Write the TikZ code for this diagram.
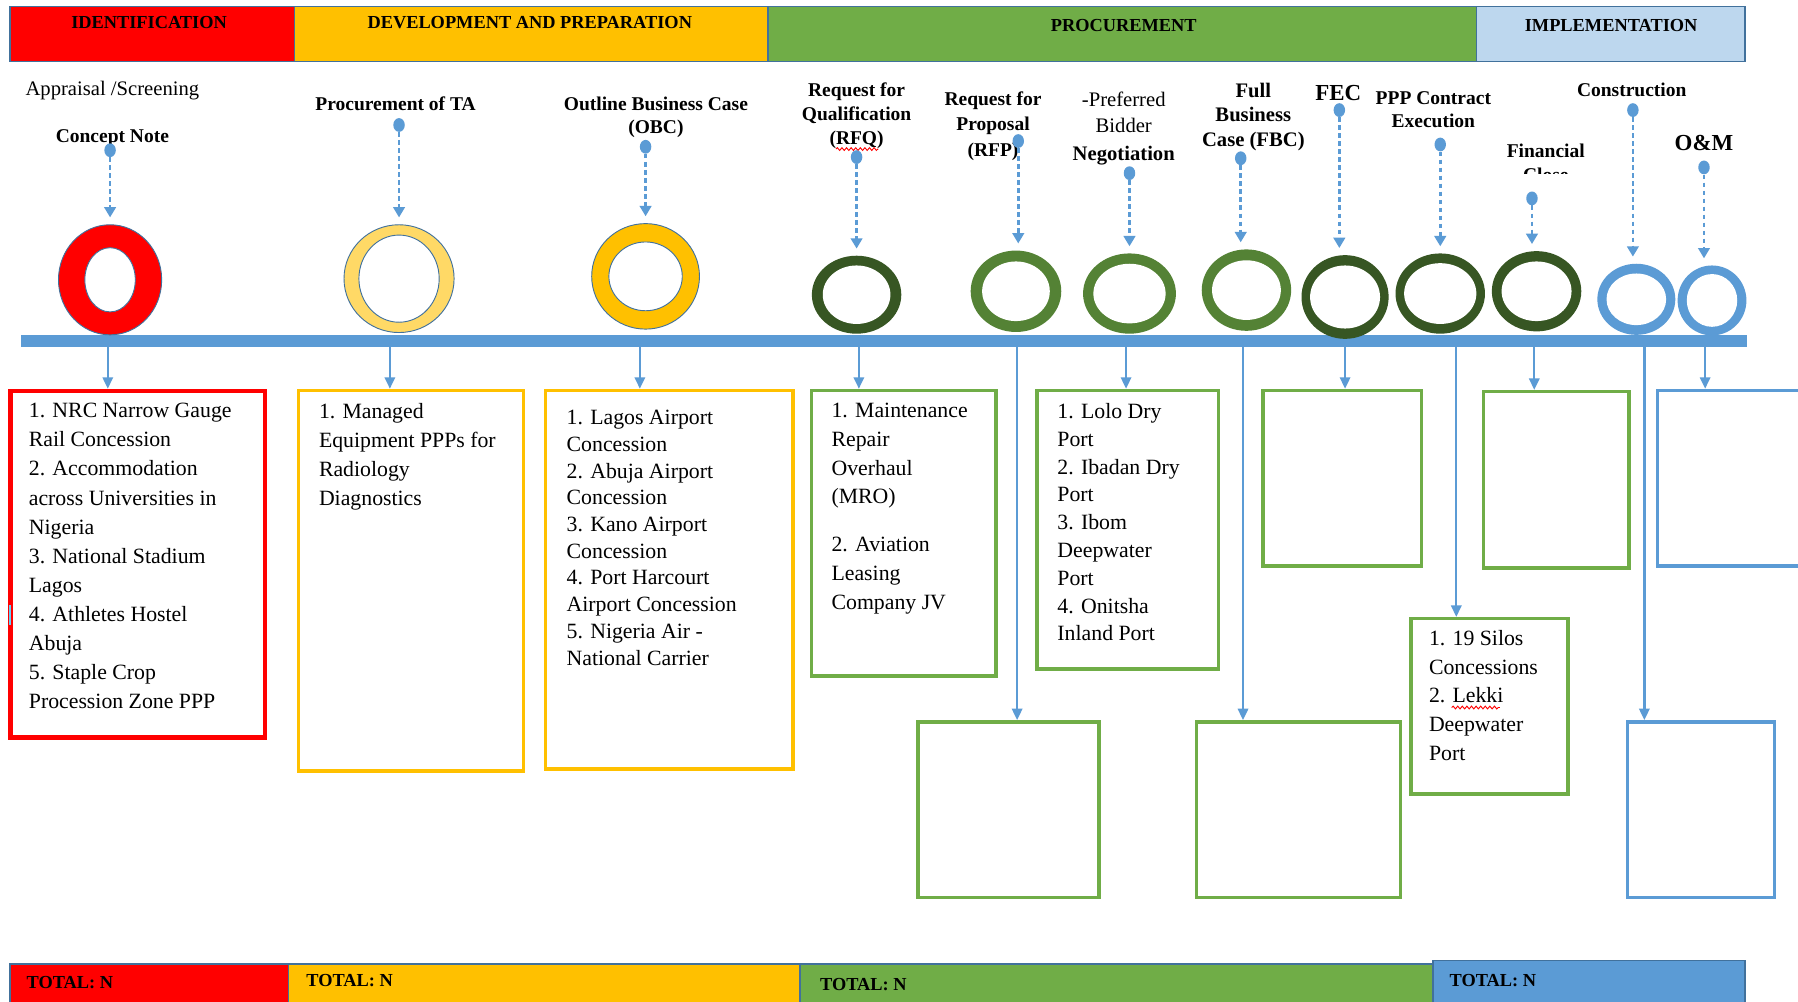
\documentclass[tikz,border=0pt]{standalone}
\usepackage{fontspec}
\setmainfont{Liberation Serif}
\usetikzlibrary{shapes.geometric,arrows.meta,decorations.pathmorphing}
\definecolor{cred}{HTML}{FF0000}
\definecolor{cyel}{HTML}{FFC000}
\definecolor{clyel}{HTML}{FFD966}
\definecolor{cgreen}{HTML}{70AD47}
\definecolor{cmgreen}{HTML}{548235}
\definecolor{cdgreen}{HTML}{375623}
\definecolor{cblue}{HTML}{5B9BD5}
\definecolor{clblue}{HTML}{BDD7EE}
\definecolor{edgec}{HTML}{41719C}
\begin{document}
\begin{tikzpicture}[x=1pt,y=-1pt,
  hdr/.style={draw=edgec, line width=1.2pt, anchor=north west, inner sep=0, minimum height=48pt},
  hdrtxt/.style={font=\fontsize{16}{18}\selectfont\bfseries, inner sep=0},
  lab/.style={font=\fontsize{17}{21}\selectfont\bfseries, align=center, inner sep=0, anchor=north},
  labn/.style={font=\fontsize{18}{23}\selectfont, align=center, inner sep=0, anchor=north},
  ringnode/.style={ellipse, inner sep=0},
  dotn/.style={ellipse, fill=cblue, minimum width=10pt, minimum height=12pt, inner sep=0},
  dotconn/.style={draw=cblue, line width=2.4pt, dash pattern=on 4pt off 3pt, shorten >=6pt, -{Triangle[width=10pt,length=9pt]}},
  arr/.style={draw=cblue, line width=2pt, -{Triangle[width=9pt,length=10pt]}},
  pbox/.style={draw=#1, line width=3pt, anchor=north west, inner sep=0, fill=white},
  body/.style={font=\fontsize{19}{25}\selectfont, align=left, anchor=north west, inner sep=0},
  squig/.style={draw=red, line width=0.8pt, decorate, decoration={snake, amplitude=1.2pt, segment length=4pt}}
]
\path[use as bounding box] (0,0) rectangle (1568,873);
\clip (0,0) rectangle (1568,873);
\fill[white] (0,0) rectangle (1568,873);

% ---------- header bars ----------
\node[hdr, fill=cred, minimum width=248pt] (h1) at (8,5) {};
\node[hdr, fill=cyel, minimum width=413pt] (h2) at (256,5) {};
\node[hdr, fill=cgreen, minimum width=618pt] (h3) at (669,5) {};
\node[hdr, fill=clblue, minimum width=234pt] (h4) at (1287,5) {};
\node[hdrtxt] (h1t) at (130,20) {IDENTIFICATION};
\node[hdrtxt] (h2t) at (462,20) {DEVELOPMENT AND PREPARATION};
\node[hdrtxt] (h3t) at (980,22) {PROCUREMENT};
\node[hdrtxt] (h4t) at (1405,22) {IMPLEMENTATION};

% ---------- stage labels ----------
\node[labn] (l0) at (98,71) {Appraisal /Screening};
\node[lab] (l1) at (98,113) {Concept Note};
\node[lab] (l2) at (345,84) {Procurement of TA};
\node[lab, font=\fontsize{17}{20}\selectfont\bfseries] (l3) at (572,84) {Outline Business Case\\(OBC)};
\node[lab] (l4) at (747,72) {Request for\\Qualification\\(RFQ)};
\node[lab, font=\fontsize{17}{22}\selectfont\bfseries] (l5) at (866,80) {Request for\\Proposal\\(RFP)};
\node[labn] (l6) at (980,80) {-Preferred\\Bidder\\[1pt]\textbf{Negotiation}};
\node[lab, font=\fontsize{18}{21.5}\selectfont\bfseries] (l7) at (1093,72) {Full\\Business\\Case (FBC)};
\node[lab, font=\fontsize{20}{22}\selectfont\bfseries] (l8) at (1167,74) {FEC};
\node[lab, font=\fontsize{17}{20}\selectfont\bfseries] (l9) at (1250,80) {PPP Contract\\Execution};
\begin{scope}
\clip (1290,110) rectangle (1410,151);
\node[lab] (l10) at (1348,125) {Financial\\Close};
\end{scope}
\node[lab] (l11) at (1423,72) {Construction};
\node[lab, font=\fontsize{20}{22}\selectfont\bfseries] (l12) at (1486,118) {O\&M};
\draw[squig] (729,130) -- (766,130);

% ---------- timeline ----------
\node[fill=cblue, minimum width=1505pt, minimum height=10pt, anchor=north west, inner sep=0] (tl) at (18,292) {};

% ---------- rings ----------
\node[ringnode, fill=cred, draw=edgec, line width=0.8pt, minimum width=90pt, minimum height=96pt] (r1) at (96,244) {};
\node[ringnode, fill=white, draw=edgec, line width=0.8pt, minimum width=44pt, minimum height=56pt] (r1i) at (r1) {};
\node[ringnode, fill=clyel, draw=edgec, line width=0.8pt, minimum width=96pt, minimum height=94pt] (r2) at (348,243) {};
\node[ringnode, fill=white, draw=edgec, line width=0.8pt, minimum width=70pt, minimum height=76pt] (r2i) at (r2) {};
\node[ringnode, fill=cyel, draw=edgec, line width=0.8pt, minimum width=94pt, minimum height=92pt] (r3) at (563,241) {};
\node[ringnode, fill=white, draw=edgec, line width=0.8pt, minimum width=64pt, minimum height=60pt] (r3i) at (r3) {};
\node[ringnode, fill=cdgreen, minimum width=78pt, minimum height=68pt] (r4) at (747,257) {};
\node[ringnode, fill=white, minimum width=59pt, minimum height=51pt] (r4i) at (r4) {};
\node[ringnode, fill=cmgreen, minimum width=79pt, minimum height=71pt] (r5) at (886,254) {};
\node[ringnode, fill=white, minimum width=59pt, minimum height=52pt] (r5i) at (r5) {};
\node[ringnode, fill=cmgreen, minimum width=81pt, minimum height=70pt] (r6) at (985,256) {};
\node[ringnode, fill=white, minimum width=63pt, minimum height=52pt] (r6i) at (r6) {};
\node[ringnode, fill=cmgreen, minimum width=78pt, minimum height=71pt] (r7) at (1087,253) {};
\node[ringnode, fill=white, minimum width=60pt, minimum height=52pt] (r7i) at (r7) {};
\node[ringnode, fill=cdgreen, minimum width=76pt, minimum height=73pt] (r8) at (1173,259) {};
\node[ringnode, fill=white, minimum width=61pt, minimum height=55pt] (r8i) at (r8) {};
\node[ringnode, fill=cdgreen, minimum width=78pt, minimum height=70pt] (r9) at (1256,256) {};
\node[ringnode, fill=white, minimum width=63pt, minimum height=53pt] (r9i) at (r9) {};
\node[ringnode, fill=cdgreen, minimum width=78pt, minimum height=70pt] (r10) at (1340,254) {};
\node[ringnode, fill=white, minimum width=61pt, minimum height=52pt] (r10i) at (r10) {};
\node[ringnode, fill=cblue, minimum width=68pt, minimum height=62pt] (r11) at (1427,261) {};
\node[ringnode, fill=white, minimum width=52pt, minimum height=45pt] (r11i) at (r11) {};
\node[ringnode, fill=cblue, minimum width=60pt, minimum height=61pt] (r12) at (1493,262) {};
\node[ringnode, fill=white, minimum width=44pt, minimum height=46pt] (r12i) at (r12) {};

% ---------- dotted connectors ----------
\node[dotn] (d1) at (96,131) {};
\node[dotn] (d2) at (348,109) {};
\node[dotn] (d3) at (563,128) {};
\node[dotn] (d4) at (747,137) {};
\node[dotn] (d5) at (888,123) {};
\node[dotn] (d6) at (985,151) {};
\node[dotn] (d7) at (1082,138) {};
\node[dotn] (d8) at (1168,96) {};
\node[dotn] (d9) at (1256,126) {};
\node[dotn] (d10) at (1336,173) {};
\node[dotn] (d11) at (1424,96) {};
\node[dotn] (d12) at (1486,146) {};
\draw[dotconn] (d1) -- (d1 |- r1.north);
\draw[dotconn] (d2) -- (d2 |- r2.north);
\draw[dotconn] (d3) -- (d3 |- r3.north);
\draw[dotconn] (d4) -- (d4 |- r4.north);
\draw[dotconn] (d5) -- (d5 |- r5.north);
\draw[dotconn] (d6) -- (d6 |- r6.north);
\draw[dotconn] (d7) -- (d7 |- r7.north);
\draw[dotconn] (d8) -- (d8 |- r8.north);
\draw[dotconn] (d9) -- (d9 |- r9.north);
\draw[dotconn] (d10) -- (d10 |- r10.north);
\draw[dotconn] (d11) -- (d11 |- r11.north);
\draw[dotconn] (d12) -- (d12 |- r12.north);

% ---------- boxes ----------
\node[pbox=cred, line width=4pt, minimum width=222pt, minimum height=302pt] (b1) at (7,339) {};
\node[pbox=cyel, minimum width=196pt, minimum height=332pt] (b2) at (259,339) {};
\node[pbox=cyel, minimum width=216pt, minimum height=330pt] (b3) at (474,339) {};
\node[pbox=cgreen, minimum width=161pt, minimum height=249pt] (b4) at (706,339) {};
\node[pbox=cgreen, minimum width=158pt, minimum height=153pt] (b5) at (799,628) {};
\node[pbox=cgreen, minimum width=158pt, minimum height=243pt] (b6) at (903,339) {};
\node[pbox=cgreen, minimum width=178pt, minimum height=153pt] (b7) at (1042,628) {};
\node[pbox=cgreen, minimum width=138pt, minimum height=153pt] (b8) at (1100,339) {};
\node[pbox=cgreen, minimum width=137pt, minimum height=153pt] (b9) at (1229,538) {};
\node[pbox=cgreen, minimum width=127pt, minimum height=154pt] (b10) at (1292,340) {};
\node[pbox=cblue, minimum width=128pt, minimum height=153pt] (b11) at (1418,628) {};
\node[pbox=cblue, minimum width=140pt, minimum height=153pt] (b12) at (1444,339) {};

% ---------- arrows from timeline ----------
\coordinate (a1) at (94,339);
\coordinate (a2) at (340,339);
\coordinate (a3) at (558,339);
\coordinate (a4) at (749,339);
\coordinate (a5) at (887,628);
\coordinate (a6) at (982,339);
\coordinate (a7) at (1084,628);
\coordinate (a8) at (1173,339);
\coordinate (a9) at (1270,538);
\coordinate (a10) at (1338,340);
\coordinate (a11) at (1434,628);
\coordinate (a12) at (1487,339);
\foreach \i in {1,...,12} {\draw[arr] (tl.south -| a\i) -- (a\i);}

% ---------- box texts ----------
\node[body, font=\fontsize{19}{25.4}\selectfont] (t1) at (25,351.5) {1. NRC Narrow Gauge\\Rail Concession\\2. Accommodation\\across Universities in\\Nigeria\\3. National Stadium\\Lagos\\4. Athletes Hostel\\Abuja\\5. Staple Crop\\Procession Zone PPP};
\node[body, font=\fontsize{19}{25.3}\selectfont] (t2) at (278,351.5) {1. Managed\\Equipment PPPs for\\Radiology\\Diagnostics};
\node[body, font=\fontsize{19}{23.3}\selectfont] (t3) at (494,357.5) {1. Lagos Airport\\Concession\\2. Abuja Airport\\Concession\\3. Kano Airport\\Concession\\4. Port Harcourt\\Airport Concession\\5. Nigeria Air -\\National Carrier};
\node[body] (t4) at (725,351.5) {1. Maintenance\\Repair\\Overhaul\\(MRO)\\[17pt]2. Aviation\\Leasing\\Company JV};
\node[body, font=\fontsize{19}{24.25}\selectfont] (t6) at (922,351.5) {1. Lolo Dry\\Port\\2. Ibadan Dry\\Port\\3. Ibom\\Deepwater\\Port\\4. Onitsha\\Inland Port};
\node[body] (t9) at (1246,549.5) {1. 19 Silos\\Concessions\\2. Lekki\\Deepwater\\Port};
\draw[squig] (1266,617) -- (1308,617);
\draw[cyan!60, line width=1.5pt] (9,528) -- (9,545);

% ---------- bottom totals ----------
\node[hdr, fill=cred, minimum width=243pt] (f1) at (8,840) {};
\node[hdr, fill=cyel, minimum width=446pt] (f2) at (251,840) {};
\node[hdr, fill=cgreen, minimum width=552pt] (f3) at (697,840) {};
\node[hdr, fill=cblue, minimum width=272pt] (f4) at (1249,837) {};
\node[hdrtxt, anchor=west] (f1t) at (23,857) {TOTAL: N};
\node[hdrtxt, anchor=west] (f2t) at (267,855) {TOTAL: N};
\node[hdrtxt, anchor=west] (f3t) at (715,859) {TOTAL: N};
\node[hdrtxt, anchor=west] (f4t) at (1264,855) {TOTAL: N};
\end{tikzpicture}
\end{document}
